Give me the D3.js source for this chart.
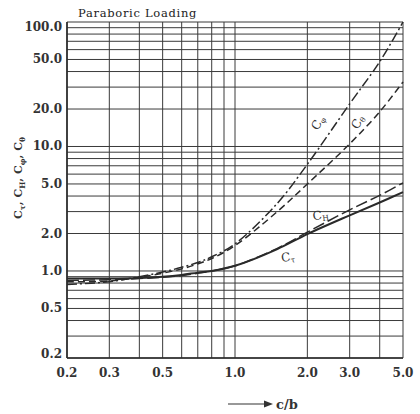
<!DOCTYPE html>
<html>
<head>
<meta charset="utf-8">
<script src="https://cdn.jsdelivr.net/npm/d3@7"></script>
<style>
  body { margin: 0; background: #fff; }
  svg { display: block; }
</style>
</head>
<body>
<script>
// chart data
var cb = [0.2, 0.3, 0.4, 0.5, 0.6, 0.7, 0.8, 1.0, 1.5, 2.0, 3.0, 4.0, 5.0];
var cPhi = [0.78, 0.82, 0.90, 0.98, 1.07, 1.17, 1.30, 1.65, 3.5, 7.2, 22, 48, 100];
var cTheta = [0.82, 0.83, 0.89, 0.96, 1.04, 1.14, 1.26, 1.60, 3.0, 5.0, 10.5, 19, 33];
var cH = [0.84, 0.85, 0.87, 0.89, 0.92, 0.96, 1.0, 1.10, 1.52, 2.05, 3.1, 4.05, 5.1];
var cTau = [0.87, 0.87, 0.88, 0.90, 0.93, 0.97, 1.0, 1.10, 1.50, 1.98, 2.8, 3.55, 4.3];

var xGrid = [0.2, 0.3, 0.4, 0.5, 0.6, 0.7, 0.8, 0.9, 1.0, 2.0, 3.0, 4.0, 5.0];
var xLabels = [0.2, 0.3, 0.5, 1.0, 2.0, 3.0, 5.0];
var yGrid = [0.2, 0.3, 0.4, 0.5, 0.6, 0.7, 0.8, 0.9, 1, 2, 3, 4, 5, 6, 7, 8, 9,
             10, 20, 30, 40, 50, 60, 70, 80, 90, 100];
var yLabels = [0.2, 0.5, 1, 2, 5, 10, 20, 50, 100];

var width = 420,
    height = 414,
    plotLeft = 67,
    plotRight = 403,
    plotTop = 22,
    plotBottom = 358,
    ink = "#2a2a2a";

var x = d3.scaleLog().domain([0.2, 5.0]).range([plotLeft, plotRight]);
var y = d3.scaleLog().domain([0.2, 100]).range([plotBottom, plotTop]);

var svg = d3.select("body")
        .append("svg")
        .attr("width", width)
        .attr("height", height);

// grid
svg.selectAll("line.vg")
    .data(xGrid)
    .enter()
    .append("line")
    .attr("class", "vg")
    .attr("x1", function(d) { return x(d); })
    .attr("x2", function(d) { return x(d); })
    .attr("y1", plotTop)
    .attr("y2", plotBottom)
    .attr("stroke", "#3a3a3a")
    .attr("stroke-width", 1);

svg.selectAll("line.hg")
    .data(yGrid)
    .enter()
    .append("line")
    .attr("class", "hg")
    .attr("x1", plotLeft)
    .attr("x2", plotRight)
    .attr("y1", function(d) { return y(d); })
    .attr("y2", function(d) { return y(d); })
    .attr("stroke", "#3a3a3a")
    .attr("stroke-width", 1);

// left and bottom frame a bit heavier
svg.append("line")
    .attr("x1", plotLeft).attr("x2", plotLeft).attr("y1", plotTop).attr("y2", plotBottom)
    .attr("stroke", ink).attr("stroke-width", 1.6);
svg.append("line")
    .attr("x1", plotLeft).attr("x2", plotRight).attr("y1", plotBottom).attr("y2", plotBottom)
    .attr("stroke", ink).attr("stroke-width", 1.6);

// tick labels
svg.selectAll("text.yl")
    .data(yLabels)
    .enter()
    .append("text")
    .attr("class", "yl")
    .text(function(d) { return d3.format(".1f")(d); })
    .attr("x", 62)
    .attr("y", function(d) {
        return Math.max(27, Math.min(354, y(d))) + 4;
    })
    .attr("text-anchor", "end")
    .attr("font-family", "DejaVu Serif")
    .attr("font-weight", "bold")
    .attr("font-size", "12px")
    .attr("fill", "#333");

svg.selectAll("text.xl")
    .data(xLabels)
    .enter()
    .append("text")
    .attr("class", "xl")
    .text(function(d) { return d3.format(".1f")(d); })
    .attr("x", function(d) { return x(d); })
    .attr("y", 377)
    .attr("text-anchor", "middle")
    .attr("font-family", "DejaVu Serif")
    .attr("font-weight", "bold")
    .attr("font-size", "12px")
    .attr("fill", "#333");

// title
svg.append("text")
    .text("Paraboric Loading")
    .attr("x", 78)
    .attr("y", 17)
    .attr("font-family", "DejaVu Serif")
    .attr("font-size", "11.5px")
    .attr("letter-spacing", "0.7px")
    .attr("fill", "#222");

// y axis title
var yt = svg.append("text")
    .attr("transform", "translate(22,178) rotate(-90)")
    .attr("text-anchor", "middle")
    .attr("font-family", "DejaVu Serif")
    .attr("font-weight", "bold")
    .attr("font-size", "11px")
    .attr("fill", "#333");
[["τ", ", "], ["H", ", "], ["φ", ", "], ["θ", ""]].forEach(function(p) {
    yt.append("tspan").text("C");
    yt.append("tspan").text(p[0]).attr("font-size", "7.5px").attr("dy", 3);
    yt.append("tspan").text(p[1]).attr("dy", -3);
});

// x axis title with arrow
svg.append("line")
    .attr("x1", 228).attr("x2", 266).attr("y1", 404).attr("y2", 404)
    .attr("stroke", "#333").attr("stroke-width", 1.2);
svg.append("path")
    .attr("d", "M264,400.5 L273,404 L264,407.5 Z")
    .attr("fill", "#333");
svg.append("text")
    .text("c/b")
    .attr("x", 276)
    .attr("y", 409)
    .attr("font-family", "DejaVu Serif")
    .attr("font-weight", "bold")
    .attr("font-size", "13px")
    .attr("fill", "#333");

// curves
var series = [
    { vals: cPhi, dash: "10,3,2,3", w: 1.5 },
    { vals: cTheta, dash: "7,4", w: 1.5 },
    { vals: cH, dash: "12,4", w: 1.5 },
    { vals: cTau, dash: null, w: 2 }
];

var line = d3.line()
    .x(function(d) { return x(d[0]); })
    .y(function(d) { return y(d[1]); })
    .curve(d3.curveCatmullRom.alpha(0.5));

svg.selectAll("path.curve")
    .data(series)
    .enter()
    .append("path")
    .attr("class", "curve")
    .attr("d", function(s) { return line(d3.zip(cb, s.vals)); })
    .attr("fill", "none")
    .attr("stroke", ink)
    .attr("stroke-width", function(s) { return s.w; })
    .attr("stroke-dasharray", function(s) { return s.dash; });

// curve labels, anchored in data coordinates
var labelSubs = ["φ", "θ", "H", "τ"];
var labelAt = [[2.21, 15.5], [3.24, 15.7], [2.27, 2.8], [1.66, 1.29]];
var labelRot = [-60, -60, -8, -8];

labelSubs.forEach(function(s, i) {
    var t = svg.append("text")
        .attr("transform", "translate(" + x(labelAt[i][0]) + "," + y(labelAt[i][1]) +
              ") rotate(" + labelRot[i] + ")")
        .attr("text-anchor", "middle")
        .attr("dy", 4)
        .attr("font-family", "DejaVu Serif")
        .attr("font-size", "12px")
        .attr("fill", "#333");
    t.append("tspan").text("C");
    t.append("tspan").text(s).attr("font-size", "7.5px").attr("dy", 2);
});
</script>
</body>
</html>
